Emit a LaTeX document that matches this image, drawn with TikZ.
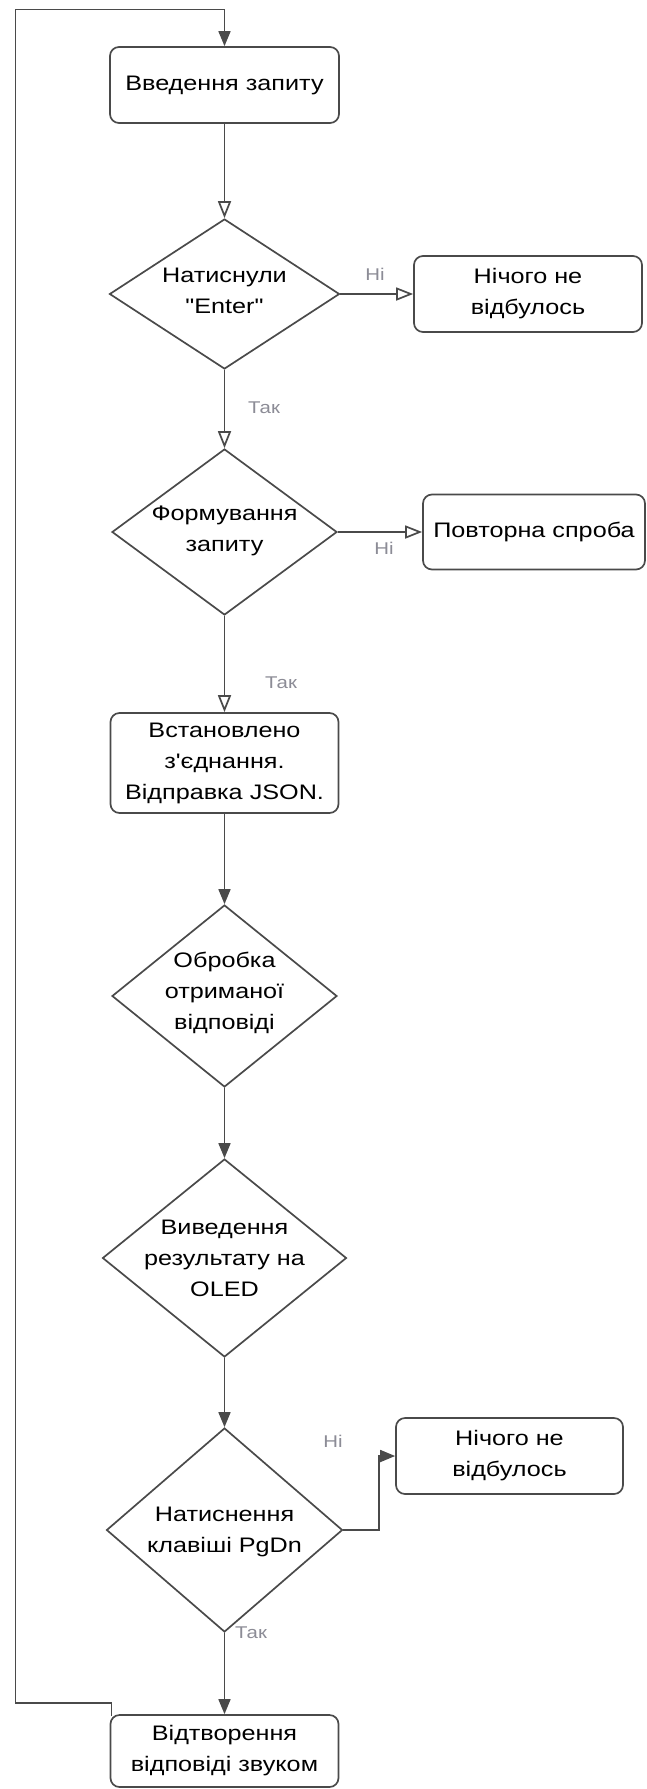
\documentclass[tikz,border=0pt]{standalone}
\usepackage{fontspec}
\setmainfont{Liberation Sans}[FakeStretch=1.2, Ligatures=TeXOff]
\usetikzlibrary{shapes.geometric,arrows.meta,calc}
\definecolor{ln}{HTML}{4A4A4A}
\definecolor{lbl}{HTML}{8C8C96}
\newcommand\mainsz{\fontsize{21}{31}\selectfont}
\newcommand\labsz{\fontsize{17}{20}\selectfont}
\begin{document}
\begin{tikzpicture}[x=1pt,y=-1pt,
  box/.style={draw=ln, line width=1.7pt, rounded corners=9pt, fill=white, align=center, inner sep=0pt, font=\mainsz},
  dia/.style={draw=ln, line width=1.7pt, diamond, inner sep=0pt, fill=white},
  txt/.style={align=center, font=\mainsz, inner sep=0pt},
  lab/.style={text=lbl, font=\labsz, inner sep=0pt},
  oa/.style={draw=ln, line width=1.7pt, -{Triangle[open,length=17pt,width=13pt]}},
  fa/.style={draw=ln, line width=1.7pt, -{Triangle[length=15pt,width=12pt]}}]
\fill[white] (0,0) rectangle (646,1789);
\useasboundingbox (0,0) rectangle (646,1789);

% nodes
\node[box, minimum width=229pt, minimum height=76pt] (b1) at (224.5,85) {Введення запиту};
\node[dia, minimum width=230pt, minimum height=150pt] (d1) at (224.5,294) {};
\node[txt] (t1) at (224.5,291) {Натиснули\\"Enter"};
\node[box, minimum width=228pt, minimum height=76pt] (n1) at (528,294) {Нічого не\\відбулось};

\node[dia, minimum width=225pt, minimum height=166pt] (d2) at (224.5,532) {};
\node[txt] (t2) at (224.5,531) {Формування\\запиту};
\node[box, minimum width=222pt, minimum height=75pt] (n2) at (534,532) {Повторна спроба};

\node[box, minimum width=228pt, minimum height=100pt] (b3) at (224.5,763) {Встановлено\\з'єднання.\\Відправка JSON.};

\node[dia, minimum width=225pt, minimum height=182pt] (d3) at (224.5,996) {};
\node[txt] (t3) at (224.5,993) {Обробка\\отриманої\\відповіді};

\node[dia, minimum width=244pt, minimum height=198pt] (d4) at (224.5,1258) {};
\node[txt] (t4) at (224.5,1258) {Виведення\\результату на\\OLED};

\node[dia, minimum width=236pt, minimum height=204pt] (d5) at (224.5,1530) {};
\node[txt] (t5) at (224.5,1532) {Натиснення\\клавіші PgDn};
\node[box, minimum width=227pt, minimum height=76pt] (n3) at (509.5,1456) {Нічого не\\відбулось};

\node[box, minimum width=228pt, minimum height=72pt] (b4) at (224.5,1751) {Відтворення\\відповіді звуком};

% labels
\node[lab] (l1) at (375,274) {Ні};
\node[lab] (l2) at (264,408) {Так};
\node[lab] (l3) at (384,548) {Ні};
\node[lab] (l4) at (281,683) {Так};
\node[lab] (l5) at (333,1441) {Ні};
\node[lab] (l6) at (251,1633) {Так};

% loop coordinates
\coordinate (c0) at (111.5,1716);
\coordinate (c1) at (15.5,1703);
\coordinate (c2) at (15.5,9.5);
\coordinate (c3) at (379,1530);

% connectors
\draw[fa] (c0) |- (c1) -- (c2) -| (b1.north);
\draw[oa] (b1.south) -- (d1.north);
\draw[oa] (d1.east) -- (n1.west);
\draw[oa] (d1.south) -- (d2.north);
\draw[oa] (d2.east) -- (n2.west);
\draw[oa] (d2.south) -- (b3.north);
\draw[fa] (b3.south) -- (d3.north);
\draw[fa] (d3.south) -- (d4.north);
\draw[fa] (d4.south) -- (d5.north);
\draw[fa] (d5.east) -- (c3) |- (n3.west);
\draw[fa] (d5.south) -- (b4.north);
\end{tikzpicture}
\end{document}
